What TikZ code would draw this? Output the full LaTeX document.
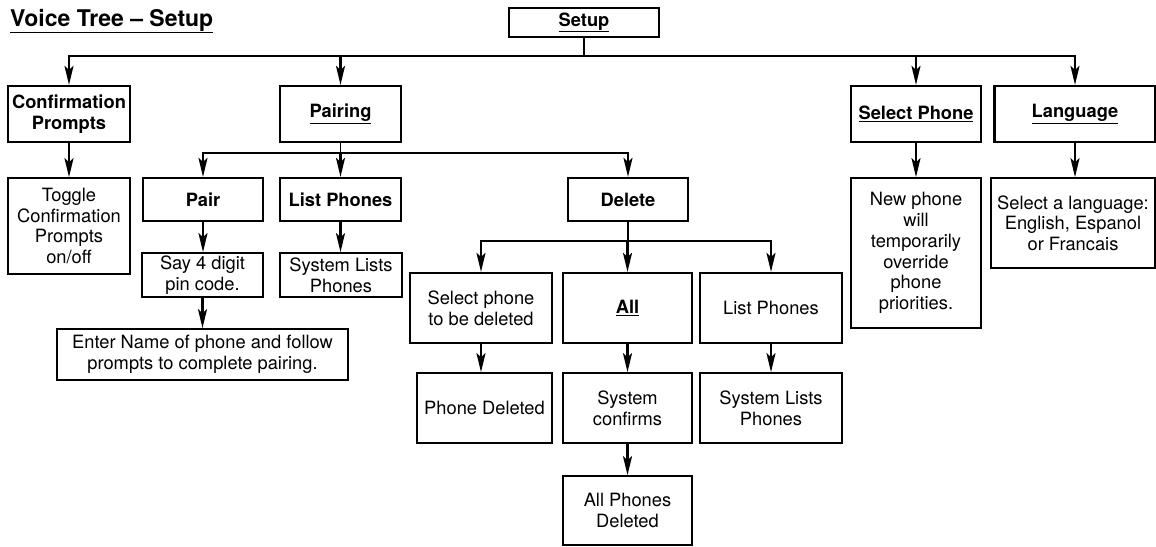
\documentclass[tikz,border=0pt]{standalone}
\usepackage{fontspec}
\setmainfont{TeX Gyre Heros}
\usetikzlibrary{arrows.meta}
\begin{document}
\begin{tikzpicture}[x=1pt,y=-1pt,
  box/.style={draw, line width=2.2pt, inner sep=0pt, align=center,
    font=\fontsize{18.3}{20.7}\selectfont},
  hbox/.style={box, font=\bfseries\fontsize{18.3}{20.7}\selectfont},
  tbox/.style={box, line width=1.7pt},
  conn/.style={line width=2.2pt},
  thinconn/.style={line width=1.2pt},
  arr/.style={line width=2.2pt, -{Stealth[length=19pt 0,width=9pt 0,inset=4pt 0]}},
]
\useasboundingbox (0,0) rectangle (1156,546);

% title
\node[anchor=base west, inner sep=0pt, font=\bfseries\fontsize{23}{27}\selectfont] (title) at (10,26) {\underline{Voice Tree – Setup}};

% level 0
\node[hbox, minimum width=150pt, minimum height=29pt] (setup) at (584,22.5) {\underline{Setup}};

% level 1
\node[hbox, minimum width=122pt, minimum height=56pt] (conf) at (69,114) {Confirmation\\Prompts};
\node[hbox, minimum width=121pt, minimum height=56pt] (pairing) at (340.5,114) {\underline{Pairing}};
\node[hbox, minimum width=130pt, minimum height=56pt] (selphone) at (916,114) {\underline{Select Phone}};
\node[hbox, minimum width=161pt, minimum height=56pt] (language) at (1075,114) {\underline{Language}};

% level 2
\node[tbox, minimum width=122pt, minimum height=96pt] (toggle) at (69,226) {Toggle\\Confirmation\\Prompts\\on/off};
\node[hbox, minimum width=120pt, minimum height=43pt] (pair) at (203,199.5) {Pair};
\node[hbox, minimum width=121pt, minimum height=43pt] (listph) at (340.5,199.5) {List Phones};
\node[hbox, minimum width=120pt, minimum height=43pt] (delete) at (628,199.5) {Delete};
\node[tbox, minimum width=130pt, minimum height=150pt] (newph) at (916,253) {New phone\\will\\temporarily\\override\\phone\\priorities.};
\node[tbox, minimum width=164pt, minimum height=90pt] (sellang) at (1073,223) {Select a language:\\English, Espanol\\or Francais};

% pairing children
\node[tbox, minimum width=121pt, minimum height=44pt] (say) at (202.5,275) {Say 4 digit\\pin code.};
\node[tbox, minimum width=122pt, minimum height=44pt] (syslist) at (341,275) {System Lists\\Phones};
\node[tbox, minimum width=291pt, minimum height=51pt] (enter) at (202.5,354.5) {Enter Name of phone and follow\\prompts to complete pairing.};

% delete children
\node[box, minimum width=142pt, minimum height=70pt] (selph) at (481,308) {Select phone\\to be deleted};
\node[hbox, minimum width=129pt, minimum height=70pt] (all) at (627.5,308) {\underline{All}};
\node[box, minimum width=142pt, minimum height=70pt] (listph2) at (771,308) {List Phones};
\node[tbox, minimum width=135pt, minimum height=70pt] (phdel) at (484.5,408) {Phone Deleted};
\node[tbox, minimum width=129pt, minimum height=70pt] (sysconf) at (627.5,408) {System\\confirms};
\node[tbox, minimum width=142pt, minimum height=70pt] (syslist2) at (771,408) {System Lists\\Phones};
\node[tbox, minimum width=129pt, minimum height=69pt] (alldel) at (627.5,510.5) {All Phones\\Deleted};

% branch levels
\coordinate (L1) at (0,56);
\coordinate (L2) at (0,153);
\coordinate (L3) at (0,241);

% setup branch
\draw[thinconn] (setup.south) -- (setup.south |- L1);
\draw[conn, line cap=rect] (conf.north |- L1) -- (language.north |- L1);
\foreach \n in {conf,pairing,selphone,language}
  \draw[arr] (\n.north |- L1) -- (\n.north);

% pairing branch
\draw[thinconn] (pairing.south) -- (pairing.south |- L2);
\draw[conn, line cap=rect] (pair.north |- L2) -- (delete.north |- L2);
\foreach \n in {pair,listph,delete}
  \draw[arr] (\n.north |- L2) -- (\n.north);

% delete branch
\draw[conn] (delete.south) -- (delete.south |- L3);
\draw[conn, line cap=rect] (selph.north |- L3) -- (listph2.north |- L3);
\foreach \n in {selph,all,listph2}
  \draw[arr] (\n.north |- L3) -- (\n.north);

% straight arrows
\draw[arr] (conf.south) -- (conf.south |- toggle.north);
\draw[arr] (pair.south) -- (pair.south |- say.north);
\draw[arr] (say.south) -- (say.south |- enter.north);
\draw[arr] (listph.south) -- (listph.south |- syslist.north);
\draw[arr] (selph.south) -- (selph.south |- phdel.north);
\draw[arr] (all.south) -- (all.south |- sysconf.north);
\draw[arr] (sysconf.south) -- (sysconf.south |- alldel.north);
\draw[arr] (listph2.south) -- (listph2.south |- syslist2.north);
\draw[arr] (selphone.south) -- (selphone.south |- newph.north);
\draw[arr] (language.south) -- (language.south |- sellang.north);
\end{tikzpicture}
\end{document}
